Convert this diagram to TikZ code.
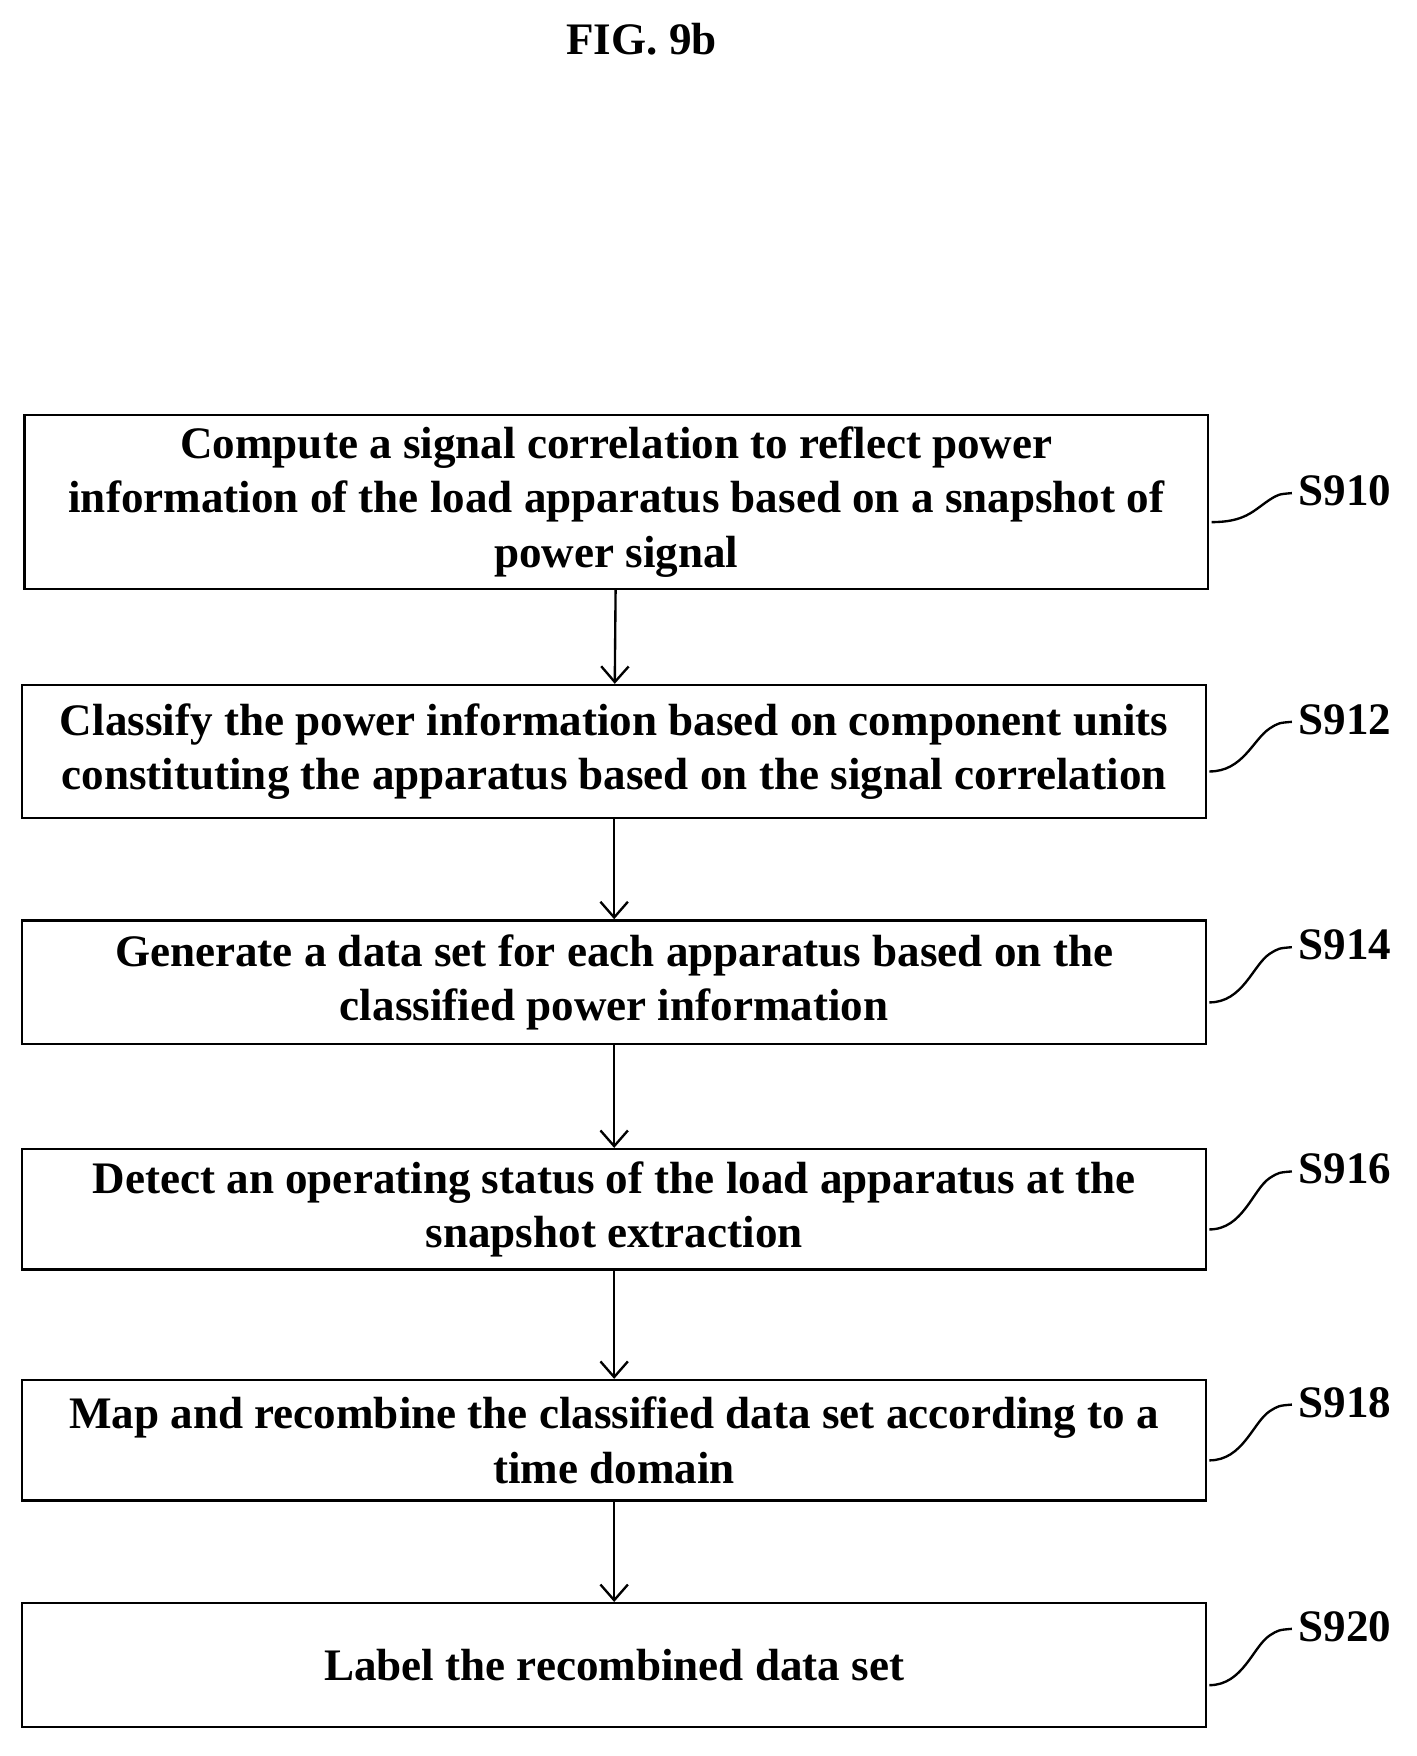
\documentclass[tikz,border=0pt]{standalone}
\usepackage{fontspec}
\setmainfont{Liberation Serif}
\usetikzlibrary{calc,arrows.meta}
\begin{document}
\begin{tikzpicture}[x=0.02cm,y=-0.02cm,
    stepbox/.style={draw,line width=1.2pt,minimum width=1061*0.02cm,align=center,
      font=\fontsize{23}{27.8}\selectfont\bfseries,inner sep=0pt},
    tag/.style={font=\fontsize{23}{27.8}\selectfont\bfseries,anchor=west},
    flow/.style={-{Straight Barb[length=8pt,width=14pt]},line width=1.2pt}]
    \useasboundingbox (0,0) rectangle (1270,1574);
    \node[font=\fontsize{23}{27.8}\selectfont\bfseries] (title) at (575,35) {FIG. 9b};
    \node[stepbox,minimum height=156*0.02cm] (s910) at (552.5,450) {Compute a signal correlation to reflect power\\information of the load apparatus based on a snapshot of\\power signal};
    \node[stepbox,minimum height=119*0.02cm] (s912) at (550.5,673.5) {Classify the power information based on component units\\constituting the apparatus based on the signal correlation};
    \node[stepbox,minimum height=111*0.02cm] (s914) at (550.5,880.5) {Generate a data set for each apparatus based on the\\classified power information};
    \node[stepbox,minimum height=108*0.02cm] (s916) at (550.5,1084) {Detect an operating status of the load apparatus at the\\snapshot extraction};
    \node[stepbox,minimum height=108*0.02cm] (s918) at (550.5,1291) {Map and recombine the classified data set according to a\\time domain};
    \node[stepbox,minimum height=111*0.02cm] (s920) at (550.5,1492.5) {Label the recombined data set};
    % step tags
    \foreach \n/\t/\y in {s910/S910/440,s912/S912/645,s914/S914/847,s916/S916/1048,s918/S918/1257,s920/S920/1458}{
      \node[tag] (t\n) at (1158,\y) {\t};
      \draw[line width=1.2pt] ($(\n.east)+(2,18)$) .. controls +(30,0) and +(-15,10) .. ($(t\n.west)+(-20,8)$)
        .. controls +(8,-5) .. ($(t\n.west)+(0,2)$);
    }
    \draw[flow] (s910) -- (s912);
    \draw[flow] (s912) -- (s914);
    \draw[flow] (s914) -- (s916);
    \draw[flow] (s916) -- (s918);
    \draw[flow] (s918) -- (s920);
\end{tikzpicture}
\end{document}
